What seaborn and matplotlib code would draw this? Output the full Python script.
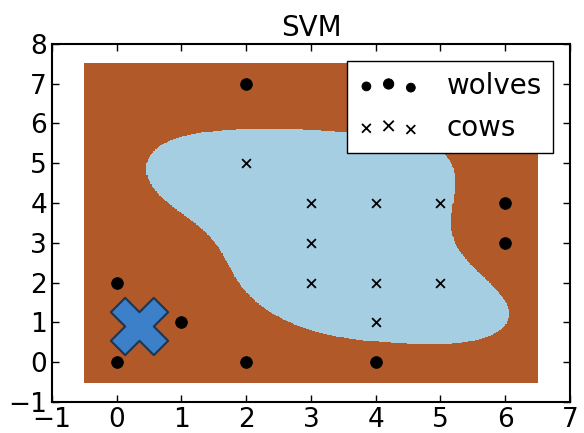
#%%
import numpy as np
import pandas as pd
import matplotlib
matplotlib.use('Agg')
import matplotlib.pyplot as plt
import seaborn as sns
from matplotlib.collections import PathCollection
from matplotlib.legend_handler import HandlerPathCollection

#%%
# Datos: lobos y vacas
lobos_x = [0, 0, 1, 2, 2, 4, 6, 6]
lobos_y = [0, 2, 1, 0, 7, 0, 3, 4]
vacas_x = [2, 3, 3, 3, 4, 4, 4, 5, 5]
vacas_y = [5, 4, 3, 2, 4, 2, 1, 4, 2]
nuevo_x = [0.35]
nuevo_y = [0.9]

df = pd.DataFrame({
    'x': lobos_x + vacas_x,
    'y': lobos_y + vacas_y,
    'clase': ['wolves'] * len(lobos_x) + ['cows'] * len(vacas_x),
})

#%%
#==============================================================================
# SVM con kernel RBF (SMO sencillo), C=1, gamma=0.5
#==============================================================================
P = df[['x', 'y']].to_numpy(dtype=float)
t = np.where(df['clase'] == 'cows', 1.0, -1.0)
gamma = 0.5
C = 1.0

def kernel(A, B):
    d2 = ((A[:, None, :] - B[None, :, :]) ** 2).sum(-1)
    return np.exp(-gamma * d2)

K = kernel(P, P)
n = len(P)
a = np.zeros(n)
for it in range(20000):
    u = K @ (a * t)
    E = u - t
    up = ((a < C) & (t > 0)) | ((a > 0) & (t < 0))
    low = ((a < C) & (t < 0)) | ((a > 0) & (t > 0))
    v = -E
    i = np.where(up)[0][np.argmax(v[up])]
    j = np.where(low)[0][np.argmin(v[low])]
    if v[i] - v[j] < 1e-6:
        break
    eta = K[i, i] + K[j, j] - 2 * K[i, j]
    if t[i] != t[j]:
        L, H = max(0, a[j] - a[i]), min(C, C + a[j] - a[i])
    else:
        L, H = max(0, a[i] + a[j] - C), min(C, a[i] + a[j])
    aj = np.clip(a[j] + t[j] * (E[i] - E[j]) / eta, L, H)
    a[i] = a[i] + t[i] * t[j] * (a[j] - aj)
    a[j] = aj

u = K @ (a * t)
libres = (a > 1e-8) & (a < C - 1e-8)
if libres.any():
    b = np.mean(t[libres] - u[libres])
else:
    b = 0.5 * (np.max((t - u)[up]) + np.min((t - u)[low]))

h = 0.02
xx, yy = np.meshgrid(np.arange(P[:, 0].min() - 0.5, P[:, 0].max() + 0.5 + h, h),
                     np.arange(P[:, 1].min() - 0.5, P[:, 1].max() + 0.5 + h, h))
grid = np.c_[xx.ravel(), yy.ravel()]
Z = (kernel(grid, P) @ (a * t) + b).reshape(xx.shape)
Z = np.where(Z > 0, 0, 1)

#%%
plt.rcParams['font.family'] = ['DejaVu Sans']
fig = plt.figure(figsize=(5.84, 4.33), dpi=100)
ax = fig.add_axes([0.089, 0.0716, 0.887, 0.827])

ax.contourf(xx, yy, Z, levels=[-0.5, 0.5, 1.5], colors=['#a6cee3', '#b15928'])

sns.scatterplot(x=lobos_x, y=lobos_y, ax=ax, color='black', marker='o', s=70,
                edgecolor='black', label='wolves', zorder=3)
sns.scatterplot(x=vacas_x, y=vacas_y, ax=ax, color='black', marker='x', s=40,
                linewidth=1.3, label='cows', zorder=3)
ax.scatter(nuevo_x, nuevo_y, marker='X', s=1700, color='#3b80c8',
           edgecolor='#1d3550', linewidth=1.5, zorder=4)

ax.set_xlim(-1, 7)
ax.set_ylim(-1, 8)
ax.set_xticks(range(-1, 8))
ax.set_yticks(range(-1, 9))
ax.tick_params(direction='in', top=True, right=True, labelsize=19, length=5, width=1)
for sp in ax.spines.values():
    sp.set_linewidth(1.5)
ax.set_title('SVM', fontsize=20)

ax.legend(loc='upper right', fontsize=20, scatterpoints=3, frameon=True,
          fancybox=False, edgecolor='black', framealpha=1, borderaxespad=0.6,
          handlelength=2.2, handletextpad=1.0, labelspacing=0.5,
          handler_map={PathCollection: HandlerPathCollection(sizes=[40, 55, 40])})

fig.savefig('out.png', dpi=100)
